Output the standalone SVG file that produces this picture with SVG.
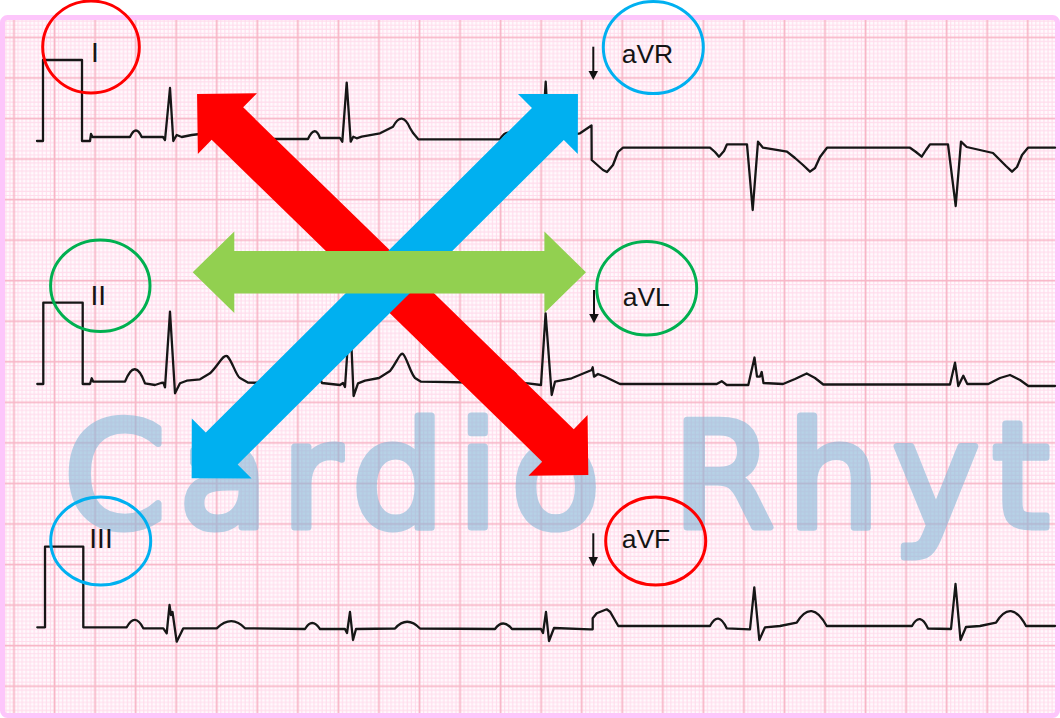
<svg xmlns="http://www.w3.org/2000/svg" width="1060" height="718" viewBox="0 0 1060 718">
<defs>
<pattern id="grid" x="-8.3025" y="15.0" width="40.55" height="40.55" patternUnits="userSpaceOnUse">
<rect width="40.55" height="40.55" fill="#fffafd"/>
<path d="M2.03 0V40.55M6.08 0V40.55M10.14 0V40.55M14.19 0V40.55M18.25 0V40.55M26.36 0V40.55M30.41 0V40.55M34.47 0V40.55M38.52 0V40.55M0 2.03H40.55M0 6.08H40.55M0 10.14H40.55M0 14.19H40.55M0 18.25H40.55M0 26.36H40.55M0 30.41H40.55M0 34.47H40.55M0 38.52H40.55" stroke="#ffdcec" stroke-width="1.1" fill="none"/>
<path d="M22.30 0V40.55M0 22.30H40.55" stroke="#f8b6c7" stroke-width="1.8" fill="none"/>
</pattern>
<clipPath id="inner"><rect x="5" y="20" width="1050" height="693"/></clipPath>
<style>
.trace{fill:none;stroke:#161616;stroke-width:2.3;stroke-linejoin:round;stroke-linecap:round}
.ring{fill:none;stroke-width:3}
.lbl{font-family:"Liberation Sans",Arial,sans-serif;fill:#141414}
.roman{font-size:28px;text-anchor:middle}
.aug{font-size:26.5px}
.mark{stroke:#111;stroke-width:2}
</style>
</defs>
<rect width="1060" height="718" fill="#ffffff"/>
<rect x="2.5" y="17.5" width="1055" height="698" rx="5" fill="url(#grid)" stroke="#fdc6fb" stroke-width="5"/>
<g clip-path="url(#inner)" opacity="0.6">
<text x="64" y="527" font-family="DejaVu Sans, sans-serif" font-size="146" letter-spacing="13" fill="#86b8d8" stroke="#86b8d8" stroke-width="7" stroke-linejoin="round">Cardio Rhyt</text>
</g>
<g id="traces">
<path class="trace" d="M37,141 L43,141 L43,60 L82,60 L82,141 L90,141 L91,134 L92.5,137 L130,137 Q136,124 141.7,137 L163,137 L165,140 L170,88 L173.3,141 L176.7,135 L181.7,137 L191.7,135 L200,134 L213,127 Q222,110 232,130 L237,139 L308,139 Q315,124 320,138 L340,138 L342.3,141.7 L346.7,82.7 L350.7,141.7 L353.3,136.7 L356.7,138.3 L361.7,136.7 L380,133.3 L393,126.7 Q402,110 410,128 L413.3,133.3 L418.3,139.3 L500,139.3 Q508,126 516,139 L540,139.3 L542,141 L545.7,81.7 L549,142 L552,136 L556,138 L565,136 L580,133.3 L591.5,125.5 L591.7,160 L603,170 L607,172 L613,165 L618,152 L623,147.7 L710,147.7 L715,152 L719,156.7 L724,151 L727,144.3 L747,144.3 L752.7,210 L758,141.7 L763,147.7 L787,151.7 L795,158 L803,165 L810,171.7 L815,168 L820,157 L827,147.7 L910,147.7 L916,152 L921.7,156.7 L926,150 L930,144.3 L948,144.3 L955.7,206 L961,141.7 L966.7,147 L993,153 L1000,160 L1006,166 L1012,171.7 L1017,167 L1022,155 L1028,147.7 L1055,147.7"/>
<path class="trace" d="M37.3,384 L43.3,384 L43.3,302.7 L82.7,302.7 L82.7,384 L90,384 L91.7,378.3 L93.3,381.7 L125,381.7 Q135,356 145,383.3 L155,385 L161,383 L163.3,382.7 L165,387.3 L170,311.7 L175,393.3 L180,383.3 L186.7,380.7 L200,379.3 L210,373.3 C218,366 223,354 227,356 C232,360 236,376 240,378 L248.3,382.7 L300,383 Q312,356 322,383 L340,385 L343,383 L345,387 L350,312 L353.6,396 L358,383.3 L365,380.7 L379,378 L390,371 C396,364 400,352 403,354 C407,358 410,372 415,378 L421,381.7 L500,383 Q510,358 520,383 L528,383.3 L541,385 L545.6,313.3 L551.7,395 L555,381.7 L571.7,378.3 L591.7,370 L592.7,367.3 L594,376.7 L598,374 L605,376.7 L620,384 L716.7,384 L721.7,381.2 L726.7,385 L748.3,385 L754.5,357.5 L757,376.7 L760,376.7 L761.7,372 L763.5,383 L783,384 L795,379 L806.7,373.5 L815,378 L823.3,384.5 L950,384.5 L955,362.7 L958.3,386 L963.3,375.7 L967.3,384 L988.3,384 L1000,378 L1010,375 L1020,380 L1028.3,386 L1055,386"/>
<path class="trace" d="M37.3,627.3 L45,627.3 L45,546.7 L83.3,546.7 L83.3,627.3 L126.7,627.3 Q135,612 143.3,628.3 L163.3,628.3 L166.7,633.3 L169.5,605 L171,615 L172.5,612 L176.7,641.7 L183.3,628.3 L216.7,628.3 Q231.7,614 245,628.3 L305,629 Q312,617 320,629 L345,629 L347,633 L350,612 L353,640 L356,629 L395,628.5 Q407,615 420,628.5 L495,629 Q503,618 512,629 L541,629 L543,633 L546,612 L549,641 L554,628 L590,629.3 L592.7,629.3 L592.7,618.3 L596.7,613.3 L606.7,609.3 L610,611.7 L618.3,626 L710,626 Q718.3,610 726.7,628.3 L750,629.3 L754.3,587.3 L759.3,640 L765,627.3 L780,626 L796.7,622.7 Q811.7,598 826.7,626 L912,626 Q920,611 928,628.5 L951,629 L955.5,584 L960.5,640 L966,627 L980,626 L996,622.7 Q1011,598 1026,626 L1055,626"/>
</g>
<g id="markers">
<line class="mark" x1="593.3" y1="46.7" x2="593.3" y2="72"/>
<polygon points="588.5,71 598,71 593.3,80" fill="#111"/>
<line class="mark" x1="594" y1="290" x2="594" y2="315"/>
<polygon points="589.2,314 598.8,314 594,323.3" fill="#111"/>
<line class="mark" x1="593.3" y1="533.3" x2="593.3" y2="558"/>
<polygon points="588.5,557 598,557 593.3,566.7" fill="#111"/>
</g>
<g id="lead-I">
<ellipse class="ring" cx="91" cy="47" rx="48.3" ry="46" stroke="#ff0000"/>
<text class="lbl roman" x="95" y="61.5">I</text>
</g>
<g id="lead-II">
<ellipse class="ring" cx="100.3" cy="285.8" rx="49.7" ry="45.8" stroke="#00b050"/>
<text class="lbl roman" x="98.3" y="305">II</text>
</g>
<g id="lead-III">
<ellipse class="ring" cx="100.7" cy="541" rx="50" ry="44" stroke="#00b0f0"/>
<text class="lbl roman" x="101" y="548.3">III</text>
</g>
<g id="lead-aVR">
<ellipse class="ring" cx="653.3" cy="47.5" rx="50" ry="46" stroke="#00b0f0"/>
<text class="lbl aug" x="621.7" y="63.3">aVR</text>
</g>
<g id="lead-aVL">
<ellipse class="ring" cx="646.7" cy="288.3" rx="50" ry="46.7" stroke="#00b050"/>
<text class="lbl aug" x="622.7" y="306">aVL</text>
</g>
<g id="lead-aVF">
<ellipse class="ring" cx="655.7" cy="541" rx="50" ry="44" stroke="#ff0000"/>
<text class="lbl aug" x="621.7" y="548.3">aVF</text>
</g>
<g id="connectors">
<polygon fill="#ff0000" transform="translate(392.7,284.5) rotate(44.24)" points="-273.1,0 -230.7,-42.4 -230.7,-22.6 230.7,-22.6 230.7,-42.4 273.1,0 230.7,42.4 230.7,22.6 -230.7,22.6 -230.7,42.4"/>
<polygon fill="#00b0f0" transform="translate(384.8,286.2) rotate(135.15)" points="-272.45,0 -230.05,-42.4 -230.05,-22.6 230.05,-22.6 230.05,-42.4 272.45,0 230.05,42.4 230.05,22.6 -230.05,22.6 -230.05,42.4"/>
<polygon fill="#92d050" points="192.7,272.3 234.3,231.5 234.3,251.1 544.4,251.1 544.4,231.5 586,272.3 544.4,313.1 544.4,293.5 234.3,293.5 234.3,313.1"/>
</g>
</svg>
